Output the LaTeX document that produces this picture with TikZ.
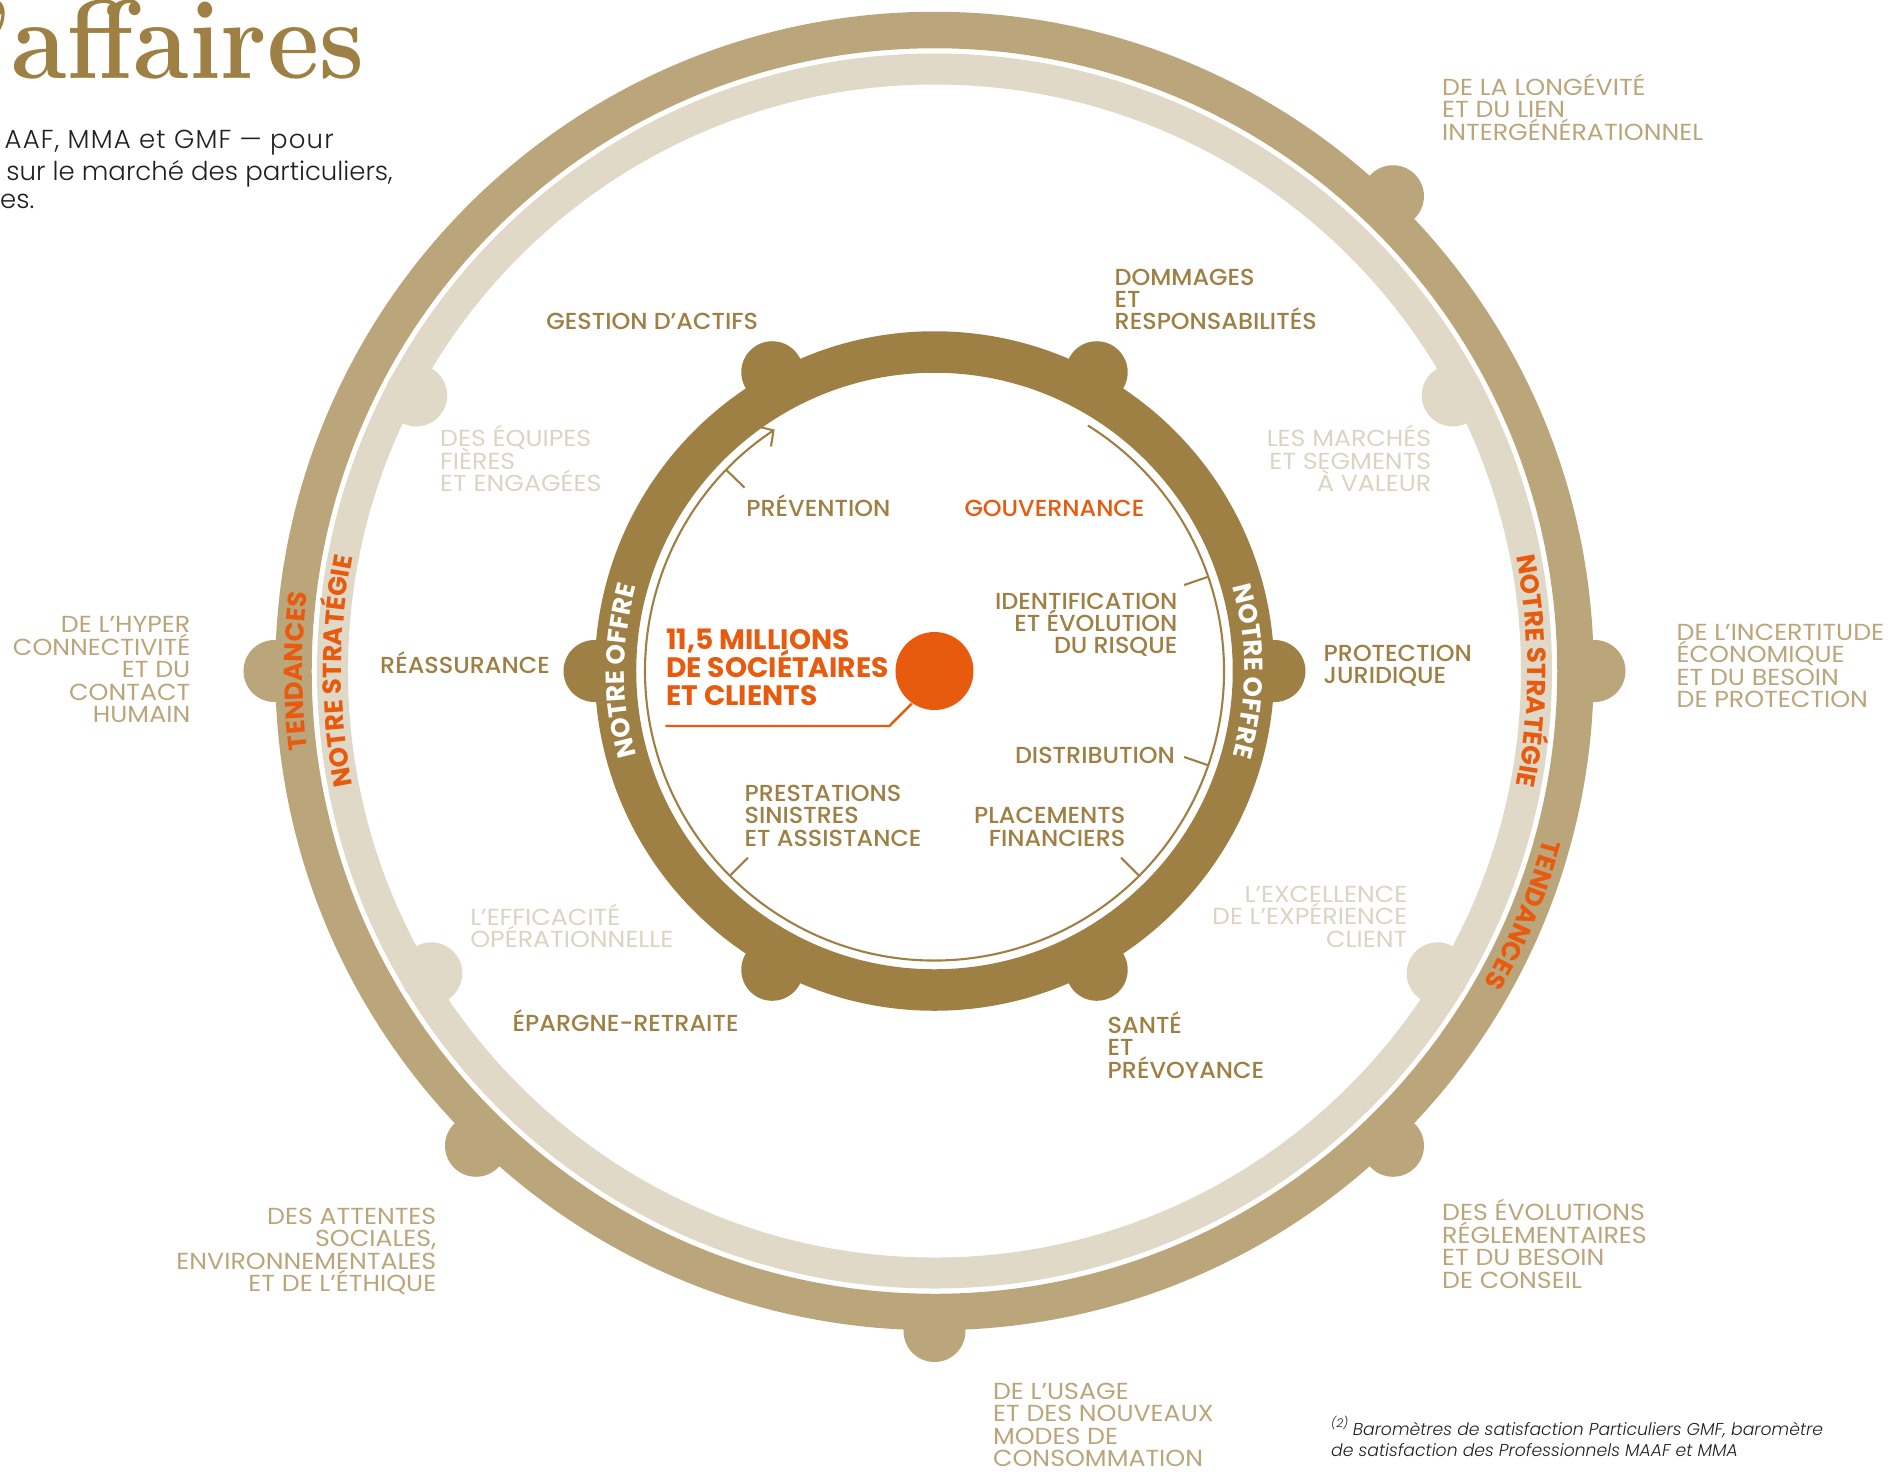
\documentclass[tikz,border=0pt]{standalone}
\usepackage{fontspec}
\usepackage{graphicx}
\usepackage{tikz}
\usetikzlibrary{calc,arrows.meta,decorations.text,positioning}
\newfontfamily\labfont{Poppins Medium}[FakeStretch=1.03]
\newfontfamily\lightfont{Poppins}[FakeStretch=1.09]
\newfontfamily\heavyfont{Poppins Bold}
\newfontfamily\bodyfont{Poppins Light}
\definecolor{gold}{HTML}{9E8044}
\definecolor{tan}{HTML}{BBA67B}
\definecolor{sand}{HTML}{E0D9C7}
\definecolor{sandtxt}{HTML}{DCD4C2}
\definecolor{orangeac}{HTML}{E85A0E}
\definecolor{ink}{HTML}{231F20}
\newcommand\ringtext{\heavyfont\fontsize{7.4}{8}\selectfont}
\newcommand\tightlines{\lineskiplimit-20pt\relax}

\begin{document}
\begin{tikzpicture}

\tikzset{lab/.style={font={\labfont\fontsize{6.6}{6.4}\selectfont\tightlines},inner sep=0pt},
lightlab/.style={font={\lightfont\fontsize{6.6}{6.4}\selectfont\tightlines},inner sep=0pt},
goldlab/.style={lab,text=gold}, tanlab/.style={lightlab,text=tan}, sandlab/.style={lightlab,text=sandtxt},
westlab/.style={anchor=base west,align=left}, eastlab/.style={anchor=base east,align=right},
rows/.style={yshift={-(#1-1)*6.4pt}},
body/.style={font={\bodyfont\fontsize{7.4}{8.5}\selectfont},text=ink,inner sep=0pt,anchor=base west},
thinline/.style={draw=gold,line width=0.6pt},
ringlabel/.style={decorate,decoration={text along path,text align=center,text={#1}}}}

\useasboundingbox (-9.345,-8.00) rectangle (9.585,6.71);

% Title and intro
\node[anchor=base west,inner sep=0pt,text=gold,font={\bfseries\fontsize{32}{32}\selectfont}] (title) at (-9.55,5.93) {\scalebox{0.9}[1]{’affaires}};
\node[body] (intro1) at (-9.305,5.23) {\addfontfeature{LetterSpace=4.5}AAF, MMA et GMF — pour};
\node[body] (intro2) at (-9.288,4.91) {sur le marché des particuliers,};
\node[body] (intro3) at (-9.35,4.63) {es.};

% Outer ring (tendances)
\draw[tan,line width=3.65mm] (0,0) circle (6.41);
\foreach \a in {0,46,180,226,270,314} \fill[tan] (\a:6.60) circle (0.31);

% Middle ring (strategie)
\draw[sand,line width=3.1mm] (0,0) circle (6.02);
\foreach \a in {28,152,211,329} \fill[sand] (\a:5.87) circle (0.31);

% Inner ring (offre)
\draw[gold,line width=4.15mm] (0,0) circle (3.19);
\foreach \a in {0,61.5,118.5,180,241.5,298.5} \fill[gold] (\a:3.40) circle (0.31);

% Ring titles
\path[ringlabel={|\ringtext\color{white}|NOTRE OFFRE}] (205:3.10) arc[start angle=205,end angle=155,radius=3.10];
\path[ringlabel={|\ringtext\color{white}|NOTRE OFFRE}] (25:3.10) arc[start angle=25,end angle=-25,radius=3.10];
\path[ringlabel={|\ringtext\color{orangeac}|NOTRE STRATÉGIE}] (200:5.93) arc[start angle=200,end angle=160,radius=5.93];
\path[ringlabel={|\ringtext\color{orangeac}|NOTRE STRATÉGIE}] (20:5.93) arc[start angle=20,end angle=-20,radius=5.93];
\path[ringlabel={|\ringtext\color{orangeac}|TENDANCES}] (195:6.32) arc[start angle=195,end angle=165,radius=6.32];
\path[ringlabel={|\ringtext\color{orangeac}|TENDANCES}] (-2:6.32) arc[start angle=-2,end angle=-43,radius=6.32];

% Cycle inside the offer ring
\draw[thinline,-{Straight Barb[length=1.1mm,width=2.4mm]}] (58:2.895) arc[start angle=58,end angle=-236.5,radius=2.895];
\foreach \a in {136,19,-19,-45,-135} \draw[thinline] (\a:2.895) -- (\a:2.64); % tick marks

% Core
\node[circle,fill=orangeac,minimum size=7.8mm,inner sep=0pt] (core) at (0,0) {};
\coordinate (bend) at (-0.45,-0.55);
\coordinate (tail) at (-2.69,-0.55);
\draw[orangeac,line width=0.7pt] (core.235) -- (bend) -- (tail);
\node[anchor=base west,align=left,inner sep=0pt,yshift={-2*7.9pt},font={\heavyfont\fontsize{8}{7.9}\selectfont\tightlines},text=orangeac] (members) at (-2.688,0.215) {11,5 MILLIONS\\DE SOCIÉTAIRES\\ET CLIENTS};

% Labels inside the offer ring
\node[goldlab,westlab] (prev) at (-1.888,1.55) {PRÉVENTION};
\node[lab,westlab,text=orangeac] (gouv) at (0.293,1.55) {GOUVERNANCE};
\node[goldlab,eastlab,rows=3] (ident) at (2.435,0.62) {IDENTIFICATION\\ET ÉVOLUTION\\DU RISQUE};
\node[goldlab,eastlab] (distr) at (2.411,-0.92) {DISTRIBUTION};
\node[goldlab,eastlab,rows=2] (place) at (1.915,-1.526) {PLACEMENTS\\FINANCIERS};
\node[goldlab,westlab,rows=3] (prest) at (-1.905,-1.30) {PRESTATIONS\\SINISTRES\\ET ASSISTANCE};

% Offer labels
\node[goldlab,westlab] (actifs) at (-3.888,3.414) {GESTION D’ACTIFS};
\node[goldlab,westlab,rows=3] (dommages) at (1.795,3.86) {DOMMAGES\\ET\\RESPONSABILITÉS};
\node[goldlab,eastlab] (reass) at (-3.84,-0.02) {RÉASSURANCE};
\node[goldlab,westlab,rows=2] (juri) at (3.885,0.10) {PROTECTION\\JURIDIQUE};
\node[goldlab,westlab] (epargne) at (-4.225,-3.60) {ÉPARGNE-RETRAITE};
\node[goldlab,westlab,rows=3] (sante) at (1.725,-3.62) {SANTÉ\\ET\\PRÉVOYANCE};

% Strategy labels
\node[sandlab,westlab,rows=3] (equipes) at (-4.95,2.243) {DES ÉQUIPES\\FIÈRES\\ET ENGAGÉES};
\node[sandlab,eastlab,rows=3] (marches) at (4.975,2.243) {LES MARCHÉS\\ET SEGMENTS\\À VALEUR};
\node[sandlab,westlab,rows=2] (effic) at (-4.649,-2.54) {L’EFFICACITÉ\\OPÉRATIONNELLE};
\node[sandlab,eastlab,rows=3] (excel) at (4.735,-2.31) {L’EXCELLENCE\\DE L’EXPÉRIENCE\\CLIENT};

% Trend labels
\node[tanlab,westlab,rows=3] (longev) at (5.07,5.756) {DE LA LONGÉVITÉ\\ET DU LIEN\\INTERGÉNÉRATIONNEL};
\node[tanlab,westlab,rows=4] (incert) at (7.415,0.31) {DE L’INCERTITUDE\\ÉCONOMIQUE\\ET DU BESOIN\\DE PROTECTION};
\node[tanlab,eastlab,rows=5] (hyper) at (-7.435,0.384) {DE L’HYPER\\CONNECTIVITÉ\\ET DU\\CONTACT\\HUMAIN};
\node[tanlab,eastlab,rows=4] (attentes) at (-4.975,-5.53) {DES ATTENTES\\SOCIALES,\\ENVIRONNEMENTALES\\ET DE L’ÉTHIQUE};
\node[tanlab,westlab,rows=4] (regl) at (5.07,-5.496) {DES ÉVOLUTIONS\\RÉGLEMENTAIRES\\ET DU BESOIN\\DE CONSEIL};
\node[tanlab,westlab,rows=4] (usage) at (0.579,-7.28) {DE L’USAGE\\ET DES NOUVEAUX\\MODES DE\\CONSOMMATION};

% Footnote
\node[anchor=base west,align=left,inner sep=0pt,yshift=-6.1pt,font={\bodyfont\itshape\fontsize{4.9}{6.1}\selectfont\tightlines},text=ink] (note) at (3.96,-7.64) {\textsuperscript{(2)}\,Baromètres de satisfaction Particuliers GMF, baromètre\\de satisfaction des Professionnels MAAF et MMA};

\end{tikzpicture}
\end{document}
